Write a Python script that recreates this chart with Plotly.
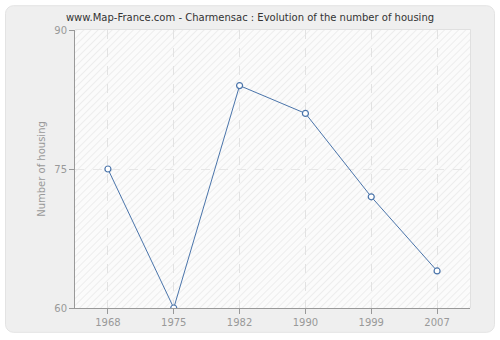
import base64
import plotly.graph_objects as go

years = ["1968", "1975", "1982", "1990", "1999", "2007"]
housing = [75, 60, 84, 81, 72, 64]
y_ticks = [60, 75, 90]

title = "www.Map-France.com - Charmensac : Evolution of the number of housing"
font = "DejaVu Sans"

W, H = 500, 340
ml, mr, mt, mb = 75, 30, 30, 30
pw, ph = W - ml - mr, H - mt - mb

# full-page background: rounded panel + hatched plot area
svg = (f'<svg xmlns="http://www.w3.org/2000/svg" width="{W}" height="{H}" viewBox="0 0 {W} {H}">'
       '<defs><pattern id="p" width="5" height="5" patternUnits="userSpaceOnUse" patternTransform="rotate(45)">'
       '<rect width="5" height="5" fill="#fbfbfb"/><line x1="0.5" y1="0" x2="0.5" y2="5" stroke="#ededed" stroke-width="1"/>'
       '</pattern></defs>'
       '<rect width="500" height="340" fill="white"/>'
       '<rect x="5.5" y="5.5" width="489" height="329" rx="8" ry="8" fill="#efefef" stroke="#e3e3e3" stroke-width="1"/>'
       f'<rect x="{ml}" y="{mt}" width="{pw}" height="{ph}" fill="url(#p)"/>'
       f'<path d="M {ml} {mt-0.5} H {ml+pw+0.5} V {mt+ph}" fill="none" stroke="#e0e0e0" stroke-width="1"/>'
       '</svg>')
uri = "data:image/svg+xml;base64," + base64.b64encode(svg.encode()).decode()

fig = go.Figure()
fig.add_trace(go.Scatter(
    x=years, y=housing, mode="lines+markers",
    line=dict(color="#4a74aa", width=1),
    marker=dict(symbol="circle", size=6, color="white", line=dict(color="#4a74aa", width=1.2)),
    hoverinfo="x+y", showlegend=False,
))

fig.update_layout(
    width=W, height=H,
    margin=dict(l=ml, r=mr, t=mt, b=mb),
    paper_bgcolor="white",
    plot_bgcolor="rgba(0,0,0,0)",
    font=dict(family=font, size=10, color="#999"),
    title=dict(text=title, x=0.5, xanchor="center", y=1 - 17/H, yanchor="middle",
               font=dict(family=font, size=10, color="#333")),
    images=[dict(source=uri, xref="paper", yref="paper",
                 x=-ml/pw, y=1 + mt/ph, sizex=W/pw, sizey=H/ph,
                 xanchor="left", yanchor="top", sizing="stretch", layer="below")],
    xaxis=dict(type="category", range=[-0.5, 5.5],
               showline=True, linecolor="#999", linewidth=1,
               ticks="outside", ticklen=5, tickcolor="#999",
               showgrid=True, gridcolor="#e2e2e2", griddash="dash", gridwidth=1,
               tickfont=dict(size=10, color="#999"), zeroline=False, fixedrange=True),
    yaxis=dict(range=[60, 90], tickvals=y_ticks,
               showline=True, linecolor="#999", linewidth=1,
               ticks="outside", ticklen=5, tickcolor="#999",
               showgrid=True, gridcolor="#e6e6e6", griddash="dash", gridwidth=1,
               tickfont=dict(size=10, color="#999"), zeroline=False, fixedrange=True,
               title=dict(text="Number of housing", font=dict(size=10, color="#999"), standoff=6)),
)

fig.write_html("out.html")
